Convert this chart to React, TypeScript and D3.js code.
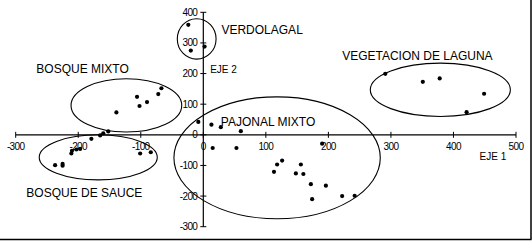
import React from "react";
import * as d3 from "d3";

const W = 532;
const H = 250;

const xTicks = [-300, -200, -100, 0, 100, 200, 300, 400, 500];
const yTicks = [-300, -200, -100, 0, 100, 200, 300, 400];

const verdolagal: [number, number][] = [
  [-24, 359],
  [-20, 275],
  [2, 288],
];
const bosqueMixto: [number, number][] = [
  [-67, 152],
  [-72, 133],
  [-106, 124],
  [-90, 107],
  [-102, 94],
  [-139, 73],
];
const transicion: [number, number][] = [
  [-152, 11],
  [-160, 5],
  [-165, -2],
  [-179, -13],
];
const bosqueSauce: [number, number][] = [
  [-197, -46],
  [-203, -48],
  [-210, -52],
  [-211, -61],
  [-225, -95],
  [-225, -101],
  [-237, -99],
  [-101, -61],
  [-84, -57],
];
const pajonalMixto: [number, number][] = [
  [-8, 42],
  [13, 33],
  [28, 25],
  [60, 12],
  [15, -43],
  [53, -43],
  [190, -29],
  [126, -84],
  [118, -97],
  [156, -97],
  [113, -121],
  [148, -126],
  [160, -128],
  [172, -161],
  [196, -166],
  [174, -210],
  [222, -200],
  [242, -199],
];
const vegetacionLaguna: [number, number][] = [
  [291, 199],
  [351, 173],
  [378, 184],
  [449, 134],
  [421, 74],
];

// group ellipses: [cx, cy, rx, ry] in data units
const groupNames = ["VERDOLAGAL", "BOSQUE MIXTO", "BOSQUE DE SAUCE", "PAJONAL MIXTO", "VEGETACION DE LAGUNA"];
const groupEllipses: [number, number, number, number][] = [
  [-10.6, 313, 31, 66],
  [-123, 96, 88.5, 87],
  [-168, -73.5, 94.4, 73.5],
  [118, -75, 165, 199],
  [379, 147, 112, 87],
];
// label anchor positions (data units)
const groupLabelPos: [number, number][] = [
  [29, 339],
  [-267, 212],
  [-283, -193],
  [28, 38],
  [222, 255],
];

const allPoints = [
  ...verdolagal,
  ...bosqueMixto,
  ...transicion,
  ...bosqueSauce,
  ...pajonalMixto,
  ...vegetacionLaguna,
];

export default function App() {
  const x = d3.scaleLinear().domain([-300, 500]).range([15.7, 516]);
  const y = d3.scaleLinear().domain([-300, 400]).range([226.7, 12.3]);
  const x0 = x(0);
  const y0 = y(0);
  const font = "'Liberation Sans', Arial, sans-serif";

  return (
    <svg
      width={W}
      height={H}
      style={{ position: "absolute", left: 0, top: 0, background: "#fff" }}
      fontFamily={font}
    >
      <rect x={0} y={0} width={W} height={H} fill="#fff" />
      {/* frame */}
      <line x1={0} x2={531.5} y1={239.5} y2={239.5} stroke="#000" strokeWidth={1.5} />
      <line x1={531} x2={531} y1={0} y2={239.5} stroke="#000" strokeWidth={1.5} />

      {/* x axis */}
      <line x1={x(-300)} x2={x(500)} y1={y0} y2={y0} stroke="#000" strokeWidth={1.2} />
      {xTicks.map((t) => (
        <g key={"xt" + t}>
          <line x1={x(t)} x2={x(t)} y1={y0 - 3} y2={y0 + 3} stroke="#000" strokeWidth={1} />
          <text
            x={x(t)}
            y={y0 + 15.5}
            fontSize={10}
            textAnchor="middle"
            fill="#000"
            letterSpacing={-0.6}
          >
            {t}
          </text>
        </g>
      ))}
      {/* y axis */}
      <line x1={x0} x2={x0} y1={y(400)} y2={y(-300)} stroke="#000" strokeWidth={1.2} />
      {yTicks.map((t) => (
        <g key={"yt" + t}>
          <line x1={x0 - 3} x2={x0 + 3} y1={y(t)} y2={y(t)} stroke="#000" strokeWidth={1} />
          <text
            x={x0 - 6}
            y={y(t) + 3.5}
            fontSize={10}
            textAnchor="end"
            fill="#000"
            letterSpacing={-0.6}
          >
            {t}
          </text>
        </g>
      ))}
      <text x={x(11)} y={y(212)} fontSize={10} fill="#000" dominantBaseline="middle">
        EJE 2
      </text>
      <text x={x(463)} y={y(-75)} fontSize={10} fill="#000" textAnchor="middle" dominantBaseline="middle">
        EJE 1
      </text>

      {/* ellipses */}
      {groupEllipses.map(([cx, cy, rx, ry], i) => (
        <ellipse
          key={"el" + i}
          cx={x(cx)}
          cy={y(cy)}
          rx={x(cx + rx) - x(cx)}
          ry={y(cy) - y(cy + ry)}
          fill="none"
          stroke="#000"
          strokeWidth={1.1}
        />
      ))}

      {/* points */}
      {allPoints.map(([px, py], i) => (
        <circle key={"p" + i} cx={x(px)} cy={y(py)} r={2.1} fill="#000" />
      ))}

      {/* group labels */}
      {groupNames.map((n, i) => (
        <text
          key={"gl" + i}
          x={x(groupLabelPos[i][0])}
          y={y(groupLabelPos[i][1])}
          fontSize={12}
          fill="#000"
          dominantBaseline="middle"
        >
          {n}
        </text>
      ))}
    </svg>
  );
}
